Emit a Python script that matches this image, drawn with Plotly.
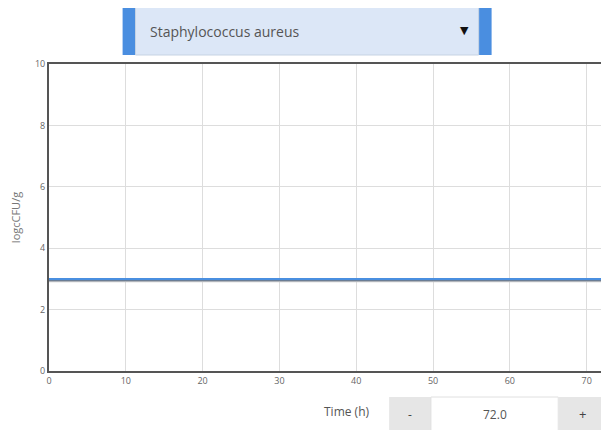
import plotly.graph_objects as go

# Data
time_h = [0, 12, 24, 36, 48, 60, 72]
series_blue = [3.0, 3.0, 3.0, 3.0, 3.0, 3.0, 3.0]
series_slate = [2.96, 2.96, 2.96, 2.96, 2.96, 2.96, 2.96]
series_grey = [2.92, 2.92, 2.92, 2.92, 2.92, 2.92, 2.92]
x_ticks = [0, 10, 20, 30, 40, 50, 60, 70]
y_ticks = [0, 2, 4, 6, 8, 10]
organism = "Staphylococcus aureus"
time_value = "72.0"

OFF = 8  # page body margin
W, H = 609 - OFF, 430 - OFF
L, R, T, B = 48 - OFF, 604 - OFF, 64 - OFF, 371 - OFF

def px(x):
    return (x - OFF - L) / (R - L)

def py(y):
    return (B - (y - OFF)) / (B - T)

fig = go.Figure()
fig.add_trace(go.Scatter(x=time_h, y=series_grey, mode="lines",
                         line=dict(color="#c8c8c8", width=2), hoverinfo="skip"))
fig.add_trace(go.Scatter(x=time_h, y=series_slate, mode="lines",
                         line=dict(color="#6b7d94", width=2), hoverinfo="skip"))
fig.add_trace(go.Scatter(x=time_h, y=series_blue, mode="lines",
                         line=dict(color="#4a8fe0", width=2), hoverinfo="skip"))

shapes = []
ann = []
# dropdown
shapes.append(dict(type="rect", xref="paper", yref="paper", x0=px(122), x1=px(493), y0=py(55), y1=py(7),
                   fillcolor="#4a8ee0", line=dict(width=0), layer="above"))
shapes.append(dict(type="rect", xref="paper", yref="paper", x0=px(135), x1=px(480), y0=py(55), y1=py(7),
                   fillcolor="#dce7f7", line=dict(color="#c7d3e3", width=1), layer="above"))
ann.append(dict(xref="paper", yref="paper", x=px(148), y=py(32), text=organism, showarrow=False,
                xanchor="left", yanchor="middle", font=dict(family="Open Sans", size=14, color="#555555")))
ann.append(dict(xref="paper", yref="paper", x=px(466), y=py(31), text="▼", showarrow=False,
                xanchor="center", yanchor="middle", font=dict(family="DejaVu Sans", size=11, color="#111111")))
# time control
shapes.append(dict(type="rect", xref="paper", yref="paper", x0=px(390), x1=px(432), y0=py(432), y1=py(397),
                   fillcolor="#e6e6e6", line=dict(width=0), layer="above"))
shapes.append(dict(type="rect", xref="paper", yref="paper", x0=px(432), x1=px(560), y0=py(432), y1=py(397),
                   fillcolor="#ffffff", line=dict(color="#e0e0e0", width=1), layer="above"))
shapes.append(dict(type="rect", xref="paper", yref="paper", x0=px(560), x1=px(612), y0=py(432), y1=py(397),
                   fillcolor="#e6e6e6", line=dict(width=0), layer="above"))
ann.append(dict(xref="paper", yref="paper", x=px(411), y=py(414), text="-", showarrow=False,
                xanchor="center", yanchor="middle", font=dict(family="Open Sans", size=12, color="#444444")))
ann.append(dict(xref="paper", yref="paper", x=px(496), y=py(414), text=time_value, showarrow=False,
                xanchor="center", yanchor="middle", font=dict(family="Open Sans", size=12, color="#555555")))
ann.append(dict(xref="paper", yref="paper", x=px(584), y=py(414), text="+", showarrow=False,
                xanchor="center", yanchor="middle", font=dict(family="Open Sans", size=13, color="#444444")))
ann.append(dict(xref="paper", yref="paper", x=px(373), y=py(411), text="Time (h)", showarrow=False,
                xanchor="right", yanchor="middle", font=dict(family="Open Sans", size=12, color="#555555")))

fig.update_layout(
    width=W, height=H,
    margin=dict(l=L, r=W - R, t=T, b=H - B),
    paper_bgcolor="white", plot_bgcolor="white",
    showlegend=False,
    shapes=shapes, annotations=ann,
    xaxis=dict(range=[0, 72], tickvals=x_ticks, showgrid=True, gridcolor="#dddddd", gridwidth=1,
               showline=True, mirror=True, linecolor="#555555", linewidth=2, zeroline=False,
               ticks="", tickfont=dict(family="Open Sans", size=9, color="#666666")),
    yaxis=dict(range=[0, 10], tickvals=y_ticks, showgrid=True, gridcolor="#dddddd", gridwidth=1,
               showline=True, mirror=True, linecolor="#555555", linewidth=2, zeroline=False,
               ticks="", ticklen=0, tickfont=dict(family="Open Sans", size=9, color="#666666"),
               title=dict(text="logcCFU/g", font=dict(family="Open Sans", size=11, color="#777777"), standoff=14)),
)

fig.write_html("out.html")
